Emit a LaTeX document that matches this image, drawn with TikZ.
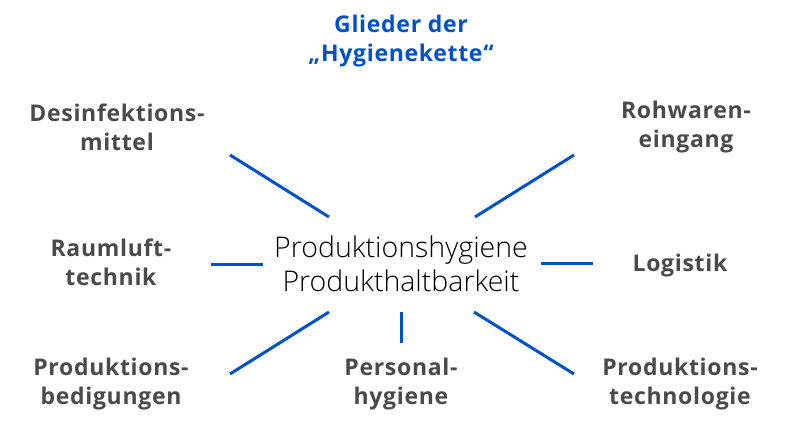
\documentclass[tikz,border=0pt]{standalone}
\usepackage{fontspec}
\setmainfont{Open Sans}
\newfontfamily\osbold[LetterSpace=3]{Open Sans Bold}
\newfontfamily\oslight{Open Sans Light}
\definecolor{hblue}{RGB}{0,82,204}
\definecolor{hgray}{RGB}{74,74,74}
\begin{document}
\begin{tikzpicture}[x=1pt,y=-1pt,
  lbl/.style={text=hgray,font=\osbold\fontsize{23}{29}\selectfont,align=center,inner sep=0pt},
  ttl/.style={text=hblue,font=\osbold\fontsize{23}{29}\selectfont,align=center,inner sep=0pt},
  ctr/.style={text=black,font=\oslight\fontsize{28.5}{34}\selectfont,align=center,inner sep=0pt},
  ray/.style={draw=hblue,line width=3pt}]
\useasboundingbox (0,0) rectangle (800,430);
\node[ttl] (title) at (401,41) {Glieder der\\„Hygienekette“};
\node[lbl] (desinf) at (117,127) {Desinfektions-\\mittel};
\node[ctr] (center) at (401,264) {Produktionshygiene\\Produkthaltbarkeit};
\node[lbl] (rohw) at (686,127) {Rohwaren-\\eingang};
\node[lbl] (raum) at (111,262) {Raumluft-\\technik};
\node[lbl] (logi) at (680,266) {Logistik};
\node[lbl] (prodb) at (111,384) {Produktions-\\bedigungen};
\node[lbl] (pers) at (401,384) {Personal-\\hygiene};
\node[lbl] (prodt) at (680,384) {Produktions-\\technologie};
\coordinate (a1) at (230,155); \coordinate (a2) at (329,217);
\coordinate (b1) at (574,155); \coordinate (b2) at (475,217);
\coordinate (c1) at (211,265); \coordinate (c2) at (263,265);
\coordinate (d1) at (593,264); \coordinate (d2) at (541,264);
\coordinate (e1) at (230,374); \coordinate (e2) at (329,312);
\coordinate (f1) at (401,343); \coordinate (f2) at (401,312);
\coordinate (g1) at (574,374); \coordinate (g2) at (474,312);
\draw[ray] (a1) -- (a2);
\draw[ray] (b1) -- (b2);
\draw[ray] (c1) -- (c2);
\draw[ray] (d1) -- (d2);
\draw[ray] (e1) -- (e2);
\draw[ray] (f1) -- (f2);
\draw[ray] (g1) -- (g2);
\end{tikzpicture}
\end{document}
